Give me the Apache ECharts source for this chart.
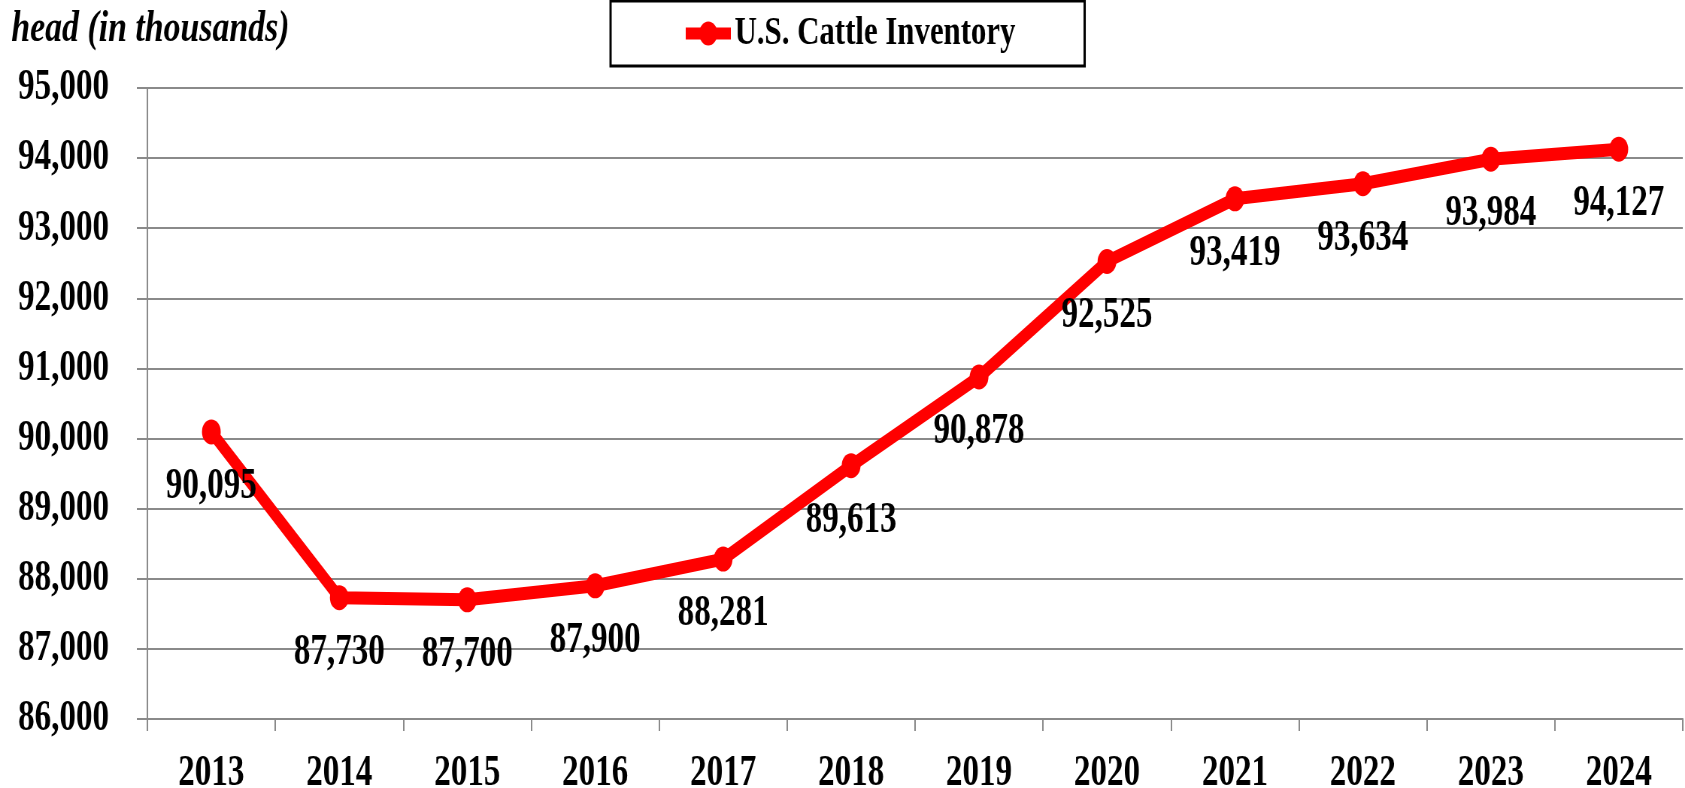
<!DOCTYPE html>
<html>
<head>
<meta charset="utf-8">
<script src="https://cdn.jsdelivr.net/npm/echarts@6/dist/echarts.min.js"></script>
<style>
	html, body { margin: 0; padding: 0; background: #fff; }
	#wrap { width: 1685px; height: 788px; overflow: hidden; position: relative; }
	/* the original picture is squeezed sideways, so draw wide and squeeze back */
	#main { width: 2241px; height: 788px; transform: scaleX(0.7519); transform-origin: 0 0; }
</style>
</head>
<body>
<div id="wrap"><div id="main"></div></div>
<script>
var years = ['2013', '2014', '2015', '2016', '2017', '2018', '2019', '2020', '2021', '2022', '2023', '2024'];
var inventory = [90095, 87730, 87700, 87900, 88281, 89613, 90878, 92525, 93419, 93634, 93984, 94127];
var seriesName = 'U.S. Cattle Inventory';
var unitLabel = 'head (in thousands)';
var yMin = 86000, yMax = 95000, yStep = 1000;

var FONT = '"Liberation Serif", "Times New Roman", serif';
var GRAY = '#8a8a8a';

function withCommas(v) {
	return Number(v).toLocaleString('en-US');
}

function loadGraph() {
	var dom = document.getElementById('main');
	var myChart = echarts.init(dom, null, { renderer: 'canvas' });

	var option = {
		backgroundColor: '#fff',
		animation: false,
		title: {
			text: unitLabel,
			left: 15,
			top: 7,
			padding: 0,
			textStyle: {
				fontFamily: FONT,
				fontSize: 45,
				fontWeight: 'bold',
				fontStyle: 'italic',
				color: '#000'
			}
		},
		legend: {
			data: [seriesName],
			left: 812,
			top: 1,
			padding: [12, 92, 12, 94],
			borderColor: '#000',
			borderWidth: 3,
			itemWidth: 60,
			itemHeight: 30,
			lineStyle: { width: 12 },
			textStyle: {
				fontFamily: FONT,
				fontSize: 41,
				fontWeight: 'bold',
				color: '#000'
			}
		},
		grid: {
			left: 196,
			right: 3,
			top: 88,
			bottom: 69,
			containLabel: false,
			outerBoundsMode: 'none'
		},
		xAxis: {
			type: 'category',
			data: years,
			boundaryGap: true,
			axisLine: { lineStyle: { color: GRAY, width: 2 } },
			axisTick: { show: true, interval: 0, length: 12, lineStyle: { color: GRAY, width: 2 } },
			axisLabel: {
				interval: 0,
				margin: 33,
				fontFamily: FONT,
				fontSize: 44,
				fontWeight: 'bold',
				color: '#000'
			}
		},
		yAxis: {
			type: 'value',
			min: yMin,
			max: yMax,
			interval: yStep,
			axisLine: { show: true, lineStyle: { color: GRAY, width: 2 } },
			axisTick: { show: true, length: 14, lineStyle: { color: GRAY, width: 2 } },
			splitLine: { lineStyle: { color: GRAY, width: 2 } },
			axisLabel: {
				margin: 51,
				formatter: withCommas,
				fontFamily: FONT,
				fontSize: 44,
				fontWeight: 'bold',
				color: '#000'
			}
		},
		series: [
			{
				name: seriesName,
				type: 'line',
				data: inventory,
				color: '#ff0000',
				symbol: 'circle',
				symbolSize: 25,
				lineStyle: { width: 13, color: '#ff0000' },
				itemStyle: { color: '#ff0000' },
				label: {
					show: true,
					position: 'bottom',
					distance: 20,
					formatter: function (p) { return withCommas(p.value); },
					fontFamily: FONT,
					fontSize: 44,
					fontWeight: 'bold',
					color: '#000'
				}
			}
		]
	};

	myChart.setOption(option, true);
}

loadGraph();
</script>
</body>
</html>
